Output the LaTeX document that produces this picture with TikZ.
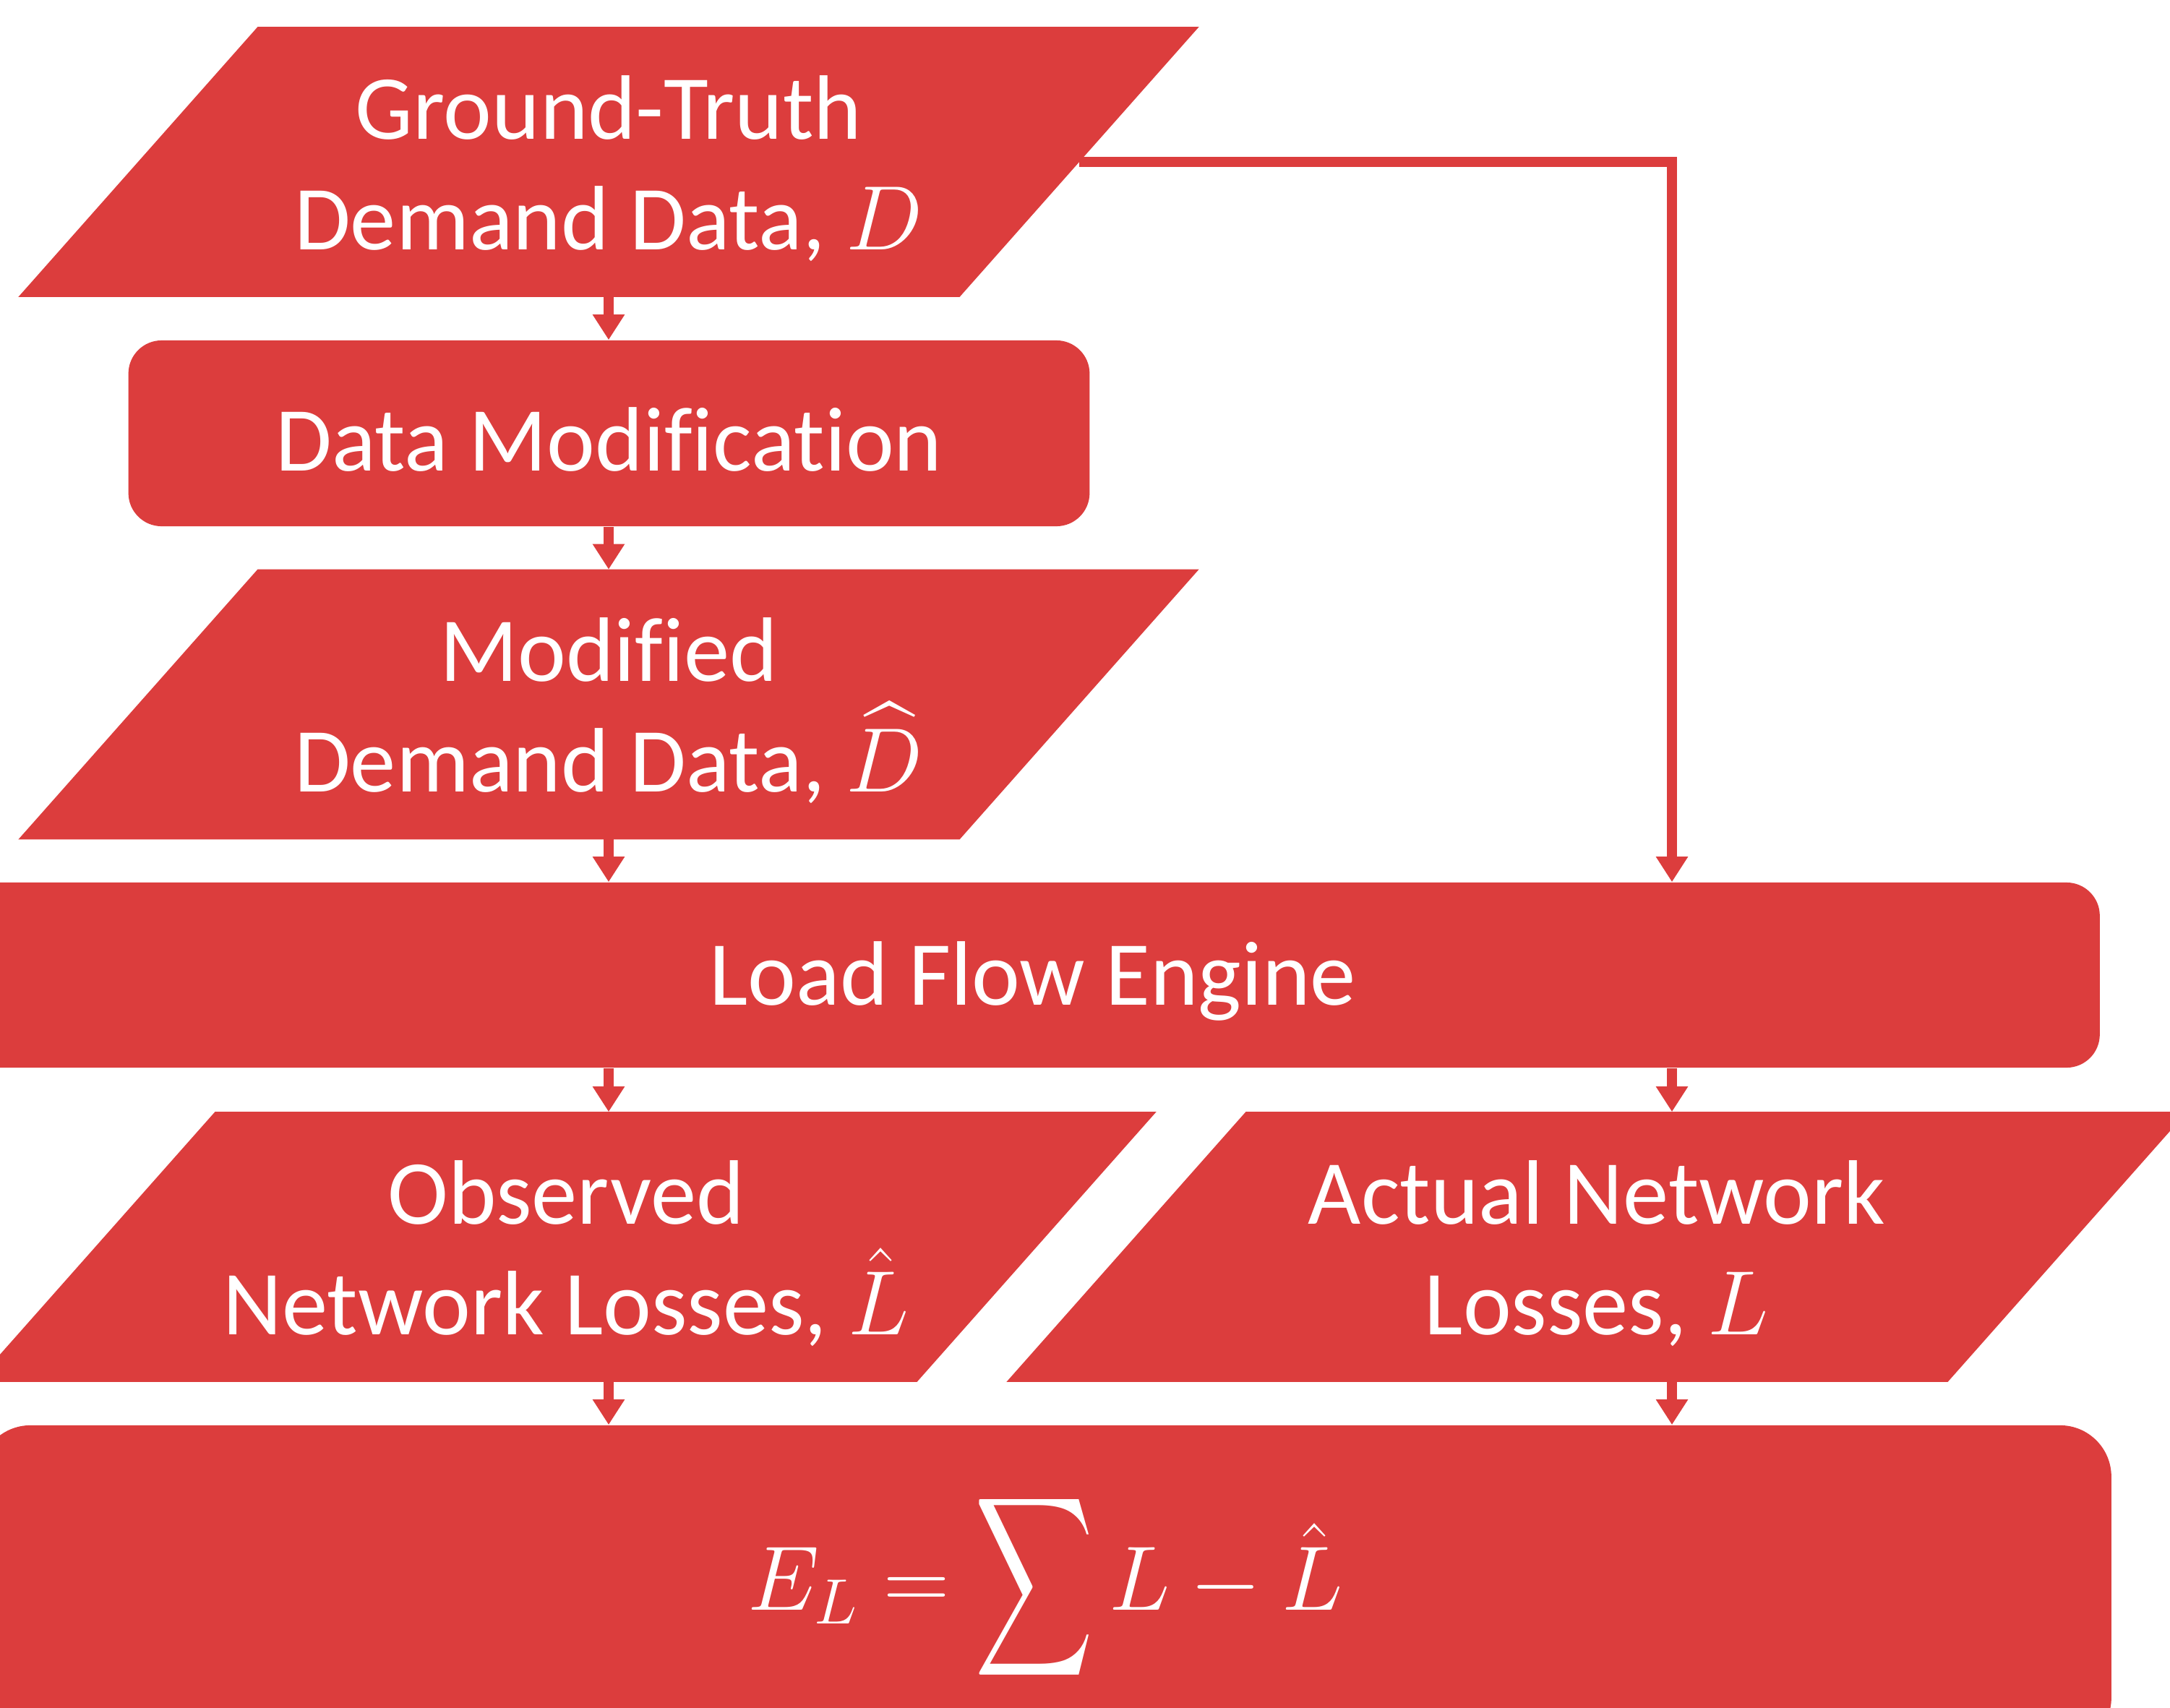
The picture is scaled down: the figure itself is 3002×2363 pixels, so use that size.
\RequirePackage{fix-cm}
\documentclass[tikz,border=0pt]{standalone}
\usepackage{exscale}
\usepackage{fontspec}
\setmainfont[Ligatures=NoCommon]{Carlito}
\usepackage{graphicx}
\usetikzlibrary{arrows.meta,calc,backgrounds}
\DeclareFontShape{OMX}{cmex}{m}{n}{<->cmex10}{}
\definecolor{myred}{RGB}{220,61,61}
\newcommand{\bigsumsym}{\mathop{\vcenter{\hbox{\scalebox{0.9}[1.37]{$\displaystyle\sum$}}}}}
\newcommand{\tstrut}{\rule{0pt}{30pt}}
\newcommand{\paraFill}[1]{%
  \fill[myred] ($(#1.north west)+(165.5,0)$) -- ($(#1.north east)+(165.5,0)$)
   -- ($(#1.south east)+(-165.5,0)$) -- ($(#1.south west)+(-165.5,0)$) -- cycle;}
\tikzset{
  lbl/.style={text=white, align=center, font=\fontsize{36}{43.5}\selectfont, inner sep=0pt},
  para/.style={lbl, minimum width=13cm, minimum height=3.72cm},
  rbox/.style={lbl, fill=myred, rounded corners=0.46cm},
  arr/.style={draw=myred, line width=0.135cm, line join=miter,
    -{Triangle[width=0.42cm,length=0.35cm]}},
}
\begin{document}
\begin{tikzpicture}[x=0.01cm,y=-0.01cm]
\useasboundingbox (0,0) rectangle (3002,2363);
\clip (0,0) rectangle (3002,2363);
% parallelogram nodes
\node[para] (gt)  at (842,224)  {\tstrut Ground-Truth\\Demand Data, $D$};
\node[para] (mod) at (842,974.5) {\tstrut Modified\\Demand Data, $\widehat{D}$};
\node[para] (obs) at (783,1725) {\tstrut Observed\\Network Losses, $\hat{L}$};
\node[para] (act) at (2209,1725) {\tstrut Actual Network\\Losses, $L$};
\begin{scope}[on background layer]
  \paraFill{gt}
  \paraFill{mod}
  \paraFill{obs}
  \paraFill{act}
\end{scope}
% rounded boxes
\node[rbox, minimum width=13.29cm, minimum height=2.57cm] (dm) at (842.5,599.5) {\tstrut Data Modification};
\node[rbox, minimum width=29.5cm, minimum height=2.56cm] (lfe) at (1429,1349) {\tstrut Load Flow Engine};
\node[rbox, minimum width=29.48cm, minimum height=4.48cm, rounded corners=0.71cm] (err) at (1446,2196)
  {$E_L = \bigsumsym L - \hat{L}$};
% connectors
\coordinate (rc) at (2313,224);
\draw[arr] (gt.south) -- (dm.north -| gt.south);
\draw[arr] (dm.south -| gt.south) -- (mod.north);
\draw[arr] (mod.south) -- (lfe.north -| mod.south);
\draw[arr] (gt.east) -- (rc) -- (rc |- lfe.north);
\draw[arr] (lfe.south -| gt.south) -- (obs.north -| gt.south);
\draw[arr] (lfe.south -| rc) -- (act.north -| rc);
\draw[arr] (obs.south -| gt.south) -- (err.north -| gt.south);
\draw[arr] (act.south -| rc) -- (err.north -| rc);
\end{tikzpicture}
\end{document}
